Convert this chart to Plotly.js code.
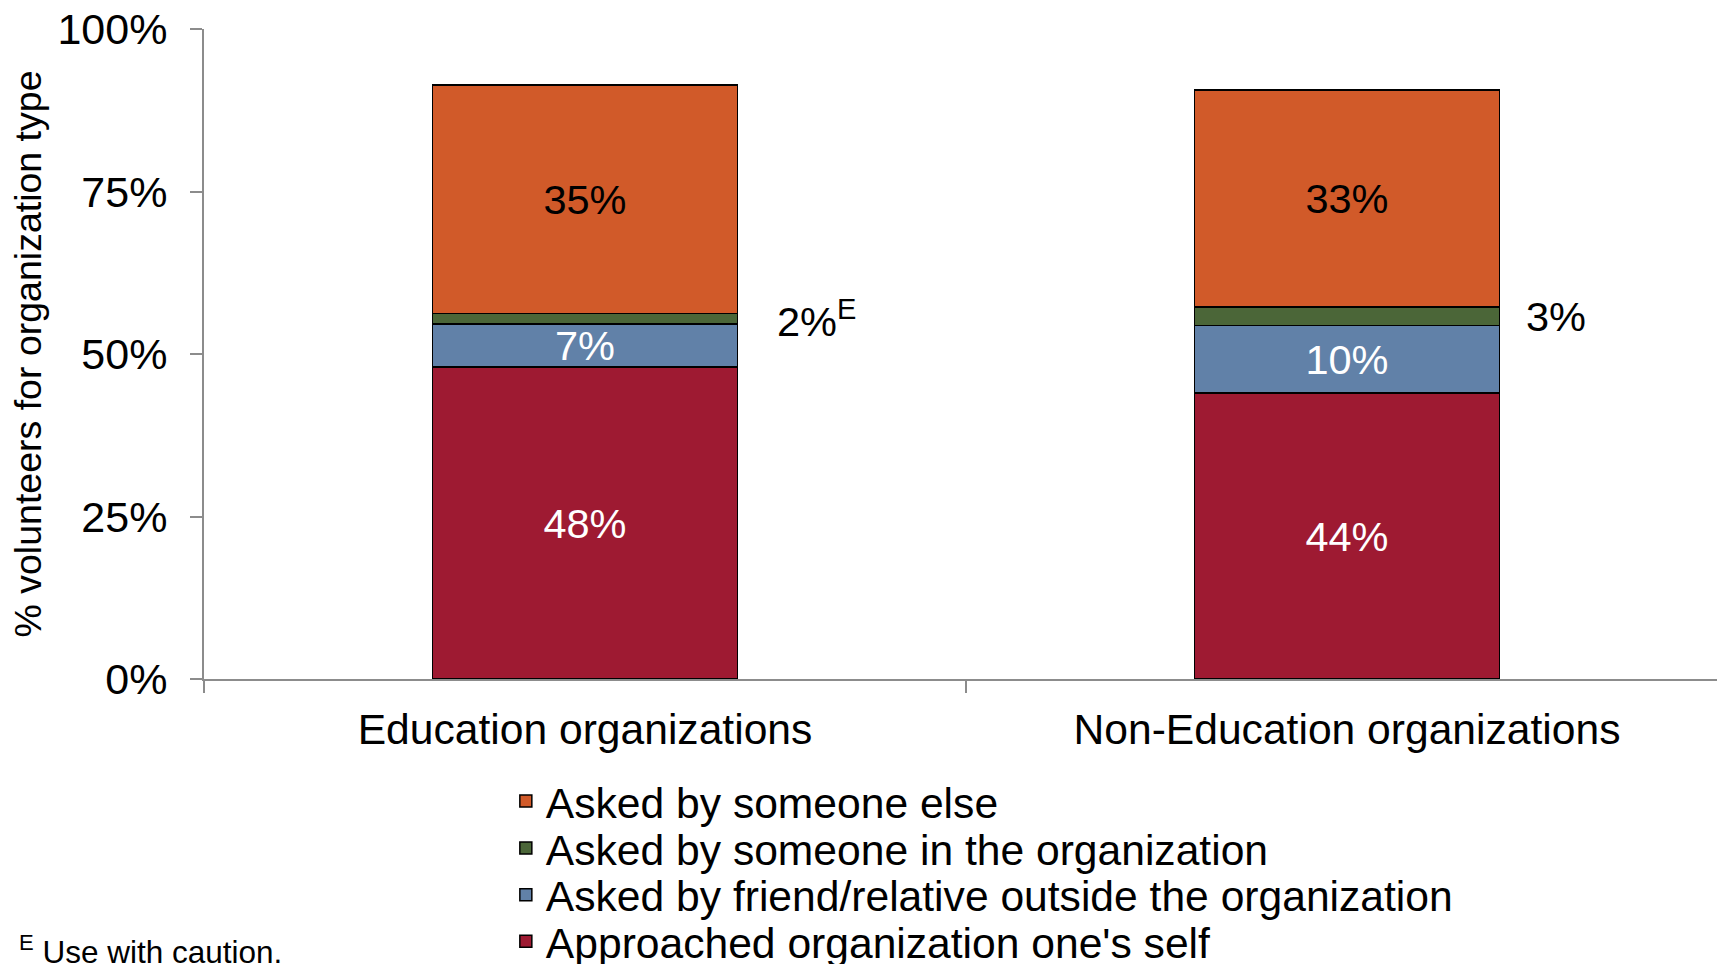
<!DOCTYPE html>
<html>
<head>
<meta charset="utf-8">
<script src="https://cdn.plot.ly/plotly-3.0.1.min.js"></script>
<style>
  html, body { margin: 0; padding: 0; background: #ffffff; }
  #chart { width: 1717px; height: 964px; }
</style>
</head>
<body>
<div id="chart"></div>
<script>
// ---- Data ----
const categories = ['Education organizations', 'Non-Education organizations'];
const seriesNames = [
  "Approached organization one's self",
  'Asked by friend/relative outside the organization',
  'Asked by someone in the organization',
  'Asked by someone else'
];
const approachedSelf   = [48.0, 44.0];
const friendRelative   = [6.6, 10.4];
const someoneInOrg     = [1.6, 2.8];
const someoneElse      = [35.2, 33.4];
const inOrgCautionFlag = [true, false];   // "E" = use with caution
const yTickValues = [0, 25, 50, 75, 100];
const yTitle = '% volunteers for organization type';
const footnote = '<sup>E</sup> Use with caution.';

// ---- Styles ----
const FONT = 'Liberation Sans, Arial, sans-serif';
const colors = ['#9E1A32', '#6181A8', '#4B6638', '#D15A29'];
const labelColors = ['#ffffff', '#ffffff', '#000000', '#000000'];
const legendIds = ['legend4', 'legend3', 'legend2', 'legend'];
const legendCenters = [-0.4040, -0.3323, -0.2605, -0.1882];
const legendX = 0.1995;
const sideLabelShift = [190, 177];

const seriesValues = [approachedSelf, friendRelative, someoneInOrg, someoneElse];

const traces = seriesValues.map((vals, i) => {
  const t = {
    type: 'bar',
    name: seriesNames[i],
    x: categories,
    y: vals,
    marker: { color: colors[i], line: { color: '#000000', width: 1.5 } },
    hoverinfo: 'skip',
    legend: legendIds[i]
  };
  if (i === 2) {
    t.textposition = 'none';
  } else {
    t.texttemplate = '%{y:.0f}%';
    t.textposition = 'inside';
    t.insidetextanchor = 'middle';
    t.constraintext = 'none';
    t.textfont = { family: FONT, size: 41.5, color: labelColors[i] };
  }
  return t;
});

const annotations = categories.map((c, k) => ({
  x: c,
  y: approachedSelf[k] + friendRelative[k] + someoneInOrg[k] / 2,
  xref: 'x', yref: 'y',
  text: Math.round(someoneInOrg[k]) + '%' + (inOrgCautionFlag[k] ? '<sup>E</sup>' : ''),
  xanchor: 'left', yanchor: 'middle',
  xshift: sideLabelShift[k],
  showarrow: false,
  font: { family: FONT, size: 41.5, color: '#000000' }
}));

annotations.push({
  x: -0.1236, y: -0.417, xref: 'paper', yref: 'paper',
  xanchor: 'left', yanchor: 'middle',
  text: footnote, showarrow: false,
  font: { family: FONT, size: 31.5, color: '#000000' }
});

const legendBase = (y) => ({
  x: legendX, xanchor: 'left', y: y, yanchor: 'middle',
  bgcolor: 'rgba(0,0,0,0)', borderwidth: 0,
  font: { family: FONT, size: 42.6, color: '#000000' }
});

const layout = {
  width: 1717, height: 964,
  margin: { l: 204, r: 0, t: 29, b: 285, autoexpand: false },
  paper_bgcolor: '#ffffff', plot_bgcolor: '#ffffff',
  font: { family: FONT, color: '#000000' },
  barmode: 'stack',
  bargap: 0.6,
  showlegend: true,
  legend: legendBase(legendCenters[3]),
  legend2: legendBase(legendCenters[2]),
  legend3: legendBase(legendCenters[1]),
  legend4: legendBase(legendCenters[0]),
  xaxis: {
    type: 'category',
    range: [-0.5, 1.4856],
    showline: true, linecolor: '#8c8c8c', linewidth: 2,
    ticks: 'outside', tickson: 'boundaries', ticklen: 12, tickcolor: '#8c8c8c', tickwidth: 2,
    tickfont: { family: FONT, size: 42.6, color: '#000000' },
    ticklabelstandoff: 12,
    showgrid: false, zeroline: false, fixedrange: true
  },
  yaxis: {
    range: [0, 100],
    tickvals: yTickValues,
    ticktext: yTickValues.map(v => v + '%'),
    showline: true, linecolor: '#8c8c8c', linewidth: 2,
    ticks: 'outside', ticklen: 12, tickcolor: '#8c8c8c', tickwidth: 2,
    tickfont: { family: FONT, size: 43, color: '#000000' },
    ticklabelstandoff: 14,
    showgrid: false, zeroline: false, fixedrange: true,
    title: { text: yTitle, font: { family: FONT, size: 37.5, color: '#000000' }, standoff: 4 }
  },
  annotations: annotations
};

Plotly.newPlot('chart', traces, layout, { displayModeBar: false, staticPlot: true });
</script>
</body>
</html>
